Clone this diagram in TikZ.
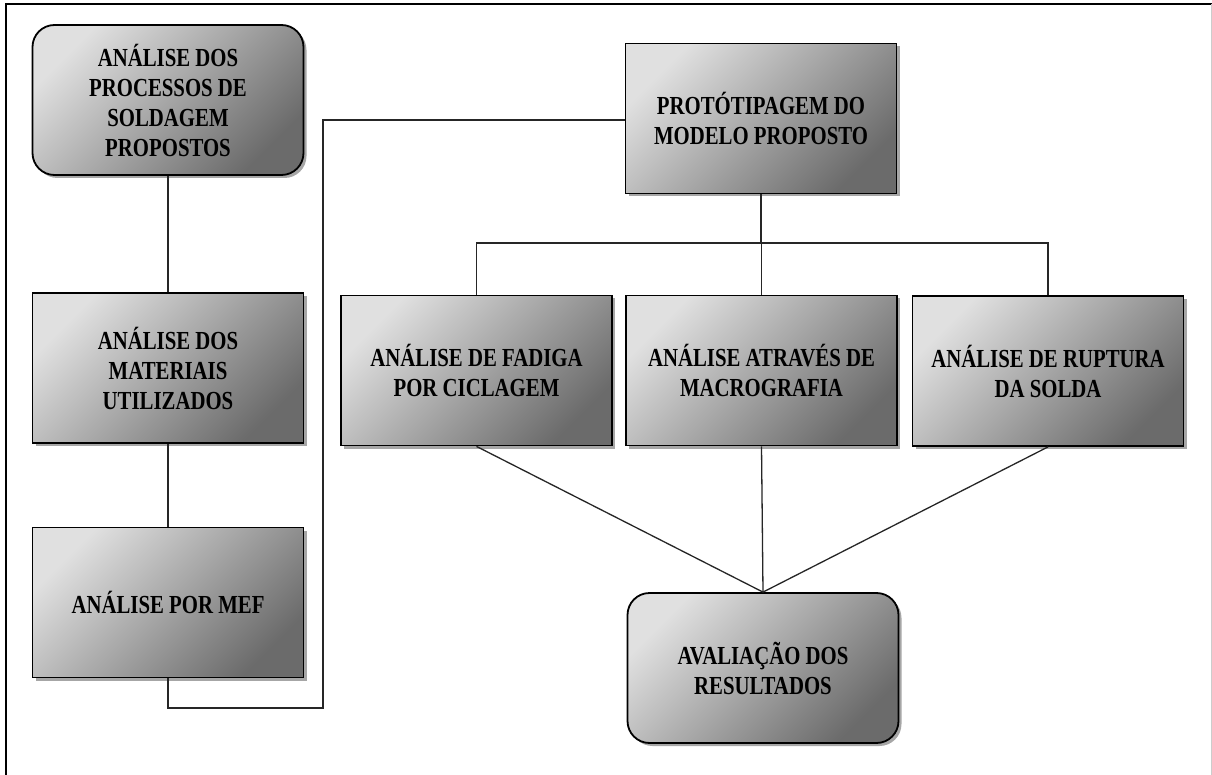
\documentclass[tikz,border=0pt]{standalone}
\usepackage{fontspec}
\setmainfont{Liberation Serif}[FakeStretch=0.8]
\usetikzlibrary{shadows}
\tikzset{
  boxbase/.style={draw=black, line width=1.8pt, minimum width=271pt, minimum height=150pt,
    align=center, inner sep=2pt, font=\fontsize{26}{30}\selectfont\bfseries,
    top color=black!12, bottom color=black!58, shading angle=45,
    drop shadow={shadow xshift=3pt, shadow yshift=-3pt, opacity=0.35, fill=black}},
  sqbox/.style={boxbase},
  rbox/.style={boxbase, rounded corners=22pt},
  link/.style={draw=black!85, line width=1.3pt},
  frameline/.style={draw=black, line width=2pt},
}
\begin{document}
\begin{tikzpicture}[x=1pt, y=-1pt]
\useasboundingbox (0,0) rectangle (1212,775);
\fill[white] (0,0) rectangle (1212,775);
\draw[frameline] (6,775) -- (6,4) -- (1212,4);
\draw[black!20, line width=1pt] (1211,4) -- (1211,775);

\node[rbox] (b1) at (168,100) {ANÁLISE DOS\\PROCESSOS DE\\SOLDAGEM\\PROPOSTOS};
\node[sqbox] (b2) at (168,368) {ANÁLISE DOS\\MATERIAIS\\UTILIZADOS};
\node[sqbox] (b3) at (168,602.5) {ANÁLISE POR MEF};
\node[sqbox] (prot) at (761,118.5) {PROTÓTIPAGEM DO\\MODELO PROPOSTO};
\node[sqbox] (ca) at (476.5,370.5) {ANÁLISE DE FADIGA\\POR CICLAGEM};
\node[sqbox] (cb) at (761.5,370.5) {ANÁLISE ATRAVÉS DE\\MACROGRAFIA};
\node[sqbox] (cc) at (1048,371) {ANÁLISE DE RUPTURA\\DA SOLDA};
\node[rbox] (fin) at (763,668) {AVALIAÇÃO DOS\\RESULTADOS};

\coordinate (l1) at (168,708);
\coordinate (l2) at (323,708);
\coordinate (l3) at (323,120);
\coordinate (bar) at (761,243);

\draw[link] (b1.south) -- (b2.north);
\draw[link] (b2.south) -- (b3.north);
\draw[link] (b3.south) -- (l1) -- (l2) -- (l3) -- (l3 -| prot.west);
\draw[link] (prot.south) -- (bar);
\draw[link] (ca.north) -- (ca.north |- bar) -- (cc.north |- bar) -- (cc.north);
\draw[link] (cb.north) -- (cb.north |- bar);
\draw[link] (ca.south) -- (fin.north);
\draw[link] (cb.south) -- (fin.north);
\draw[link] (cc.south) -- (fin.north);
\end{tikzpicture}
\end{document}
